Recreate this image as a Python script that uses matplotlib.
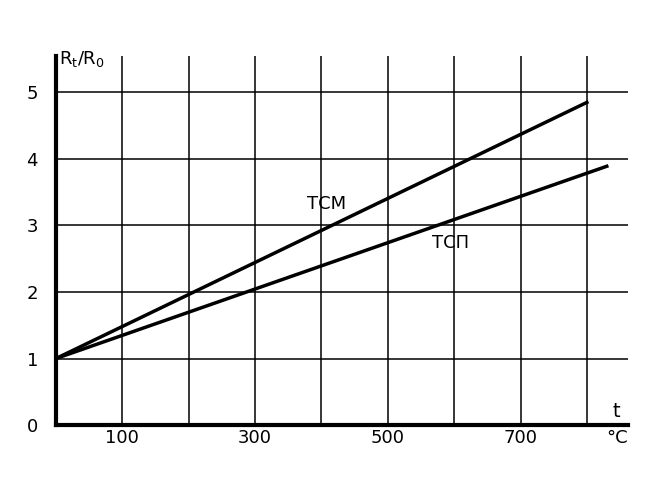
import matplotlib.pyplot as plt

# Data: start and end points of the two lines
t_tsm = [0, 800]
r_tsm = [1.0, 4.85]
t_tsp = [0, 830]
r_tsp = [1.0, 3.89]

x_grid = [100, 200, 300, 400, 500, 600, 700, 800]
x_labels = [100, 300, 500, 700]
y_ticks = [0, 1, 2, 3, 4, 5]

plt.rcParams['font.family'] = 'DejaVu Sans'
plt.rcParams['font.size'] = 13

fig = plt.figure(figsize=(6.64, 5.03), dpi=100)
ax = fig.add_axes([0.0843, 0.155, 0.8615, 0.734])

ax.set_xlim(0, 862)
ax.set_ylim(0, 5.55)

for xv in x_grid:
    ax.axvline(xv, color='black', linewidth=1.1, zorder=1)
for yv in y_ticks[1:]:
    ax.axhline(yv, color='black', linewidth=1.1, zorder=1)

ax.plot(t_tsm, r_tsm, color='black', linewidth=2.5, zorder=3)
ax.plot(t_tsp, r_tsp, color='black', linewidth=2.5, zorder=3)

ax.text(408, 3.33, 'ТСМ', ha='center', va='center', fontsize=13)
ax.text(595, 2.73, 'ТСП', ha='center', va='center', fontsize=13)

for s in ['top', 'right']:
    ax.spines[s].set_visible(False)
ax.spines['left'].set_linewidth(3)
ax.spines['bottom'].set_linewidth(3)

ax.set_xticks(x_labels)
ax.set_yticks(y_ticks)
ax.tick_params(axis='x', length=0, pad=3)
ax.tick_params(axis='y', length=0, pad=13)

ax.text(5, 5.5, r'R$_\mathregular{t}$/R$_\mathregular{0}$', ha='left', va='center', fontsize=13)
ax.text(845, 0.2, 't', ha='center', va='center', fontsize=14)
ax.text(845, -0.2, '°C', ha='center', va='center', fontsize=13)

fig.savefig('out.png', dpi=100)
